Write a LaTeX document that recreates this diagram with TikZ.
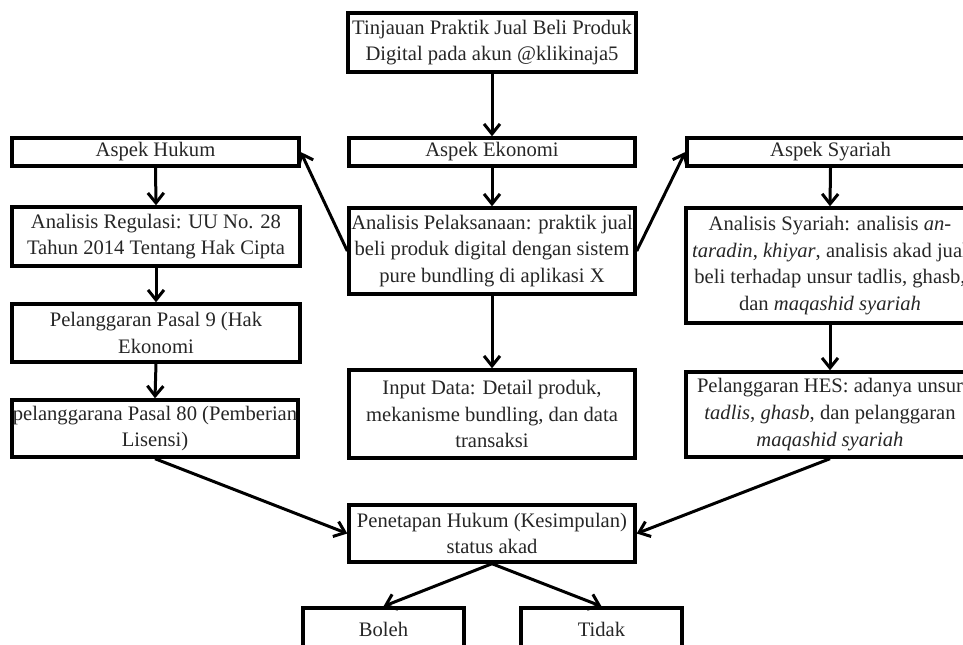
\documentclass[tikz,border=0pt]{standalone}
\usepackage{fontspec}
\setmainfont{Liberation Serif}
\usetikzlibrary{arrows.meta}
\begin{document}
\begin{tikzpicture}[x=0.5pt,y=-0.5pt,
  box/.style={draw=black,line width=1.7pt,inner sep=0pt,align=center,
    text=black!85,font=\fontsize{10.3pt}{13.4pt}\selectfont},
  conn/.style={line width=1.5pt,-{Straight Barb[length=5pt,width=8pt,line width=1.5pt]}}]
\useasboundingbox (0,0) rectangle (963,644);
\clip (0,0) rectangle (963,644);
\fill[white] (0,0) rectangle (963,644);
% top
\node[box,minimum width=144pt,minimum height=29.5pt] (top) at (492,42.5)
  {Tinjauan Praktik Jual Beli Produk\\Digital pada akun @klikinaja5};
% row of aspects
\node[box,minimum width=143.5pt,minimum height=14pt] (hukum) at (155.5,152) {Aspek Hukum};
\node[box,minimum width=143pt,minimum height=14pt] (ekonomi) at (492,152) {Aspek Ekonomi};
\node[box,minimum width=143.5pt,minimum height=14pt] (syariah) at (830.5,152) {Aspek Syariah};
% left column
\node[box,minimum width=144pt,minimum height=29.5pt] (regulasi) at (156,236.5)
  {Analisis Regulasi: UU No. 28\\Tahun 2014 Tentang Hak Cipta};
\node[box,minimum width=144pt,minimum height=29pt] (pasal9) at (156,333)
  {Pelanggaran Pasal 9 (Hak\\Ekonomi};
\node[box,minimum width=143pt,minimum height=28.5pt] (pasal80) at (155,428.5)
  {pelanggarana Pasal 80 (Pemberian\\Lisensi)};
% middle column
\node[box,minimum width=143pt,minimum height=43pt] (pelaksanaan) at (492,251)
  {Analisis Pelaksanaan: praktik jual\\beli produk digital dengan sistem\\pure bundling di aplikasi X};
\node[box,minimum width=143pt,minimum height=44pt] (input) at (492,414)
  {Input Data: Detail produk,\\mekanisme bundling, dan data\\transaksi};
% right column
\node[box,minimum width=144pt,minimum height=57.5pt] (anasyariah) at (830,265.5)
  {Analisis Syariah: analisis \textit{an-}\\\textit{taradin}, \textit{khiyar}, analisis akad jual\\beli terhadap unsur tadlis, ghasb,\\dan \textit{maqashid syariah}};
\node[box,minimum width=144pt,minimum height=42.5pt] (hes) at (830,414.5)
  {Pelanggaran HES: adanya unsur\\\textit{tadlis}, \textit{ghasb}, dan pelanggaran\\\textit{maqashid syariah}};
% conclusion
\node[box,minimum width=143pt,minimum height=28.5pt] (penetapan) at (492,533.5)
  {Penetapan Hukum (Kesimpulan)\\status akad};
\node[box,minimum width=80.5pt,minimum height=21pt] (boleh) at (383.5,629) {Boleh};
\node[box,minimum width=80.5pt,minimum height=21pt] (tidak) at (601.5,629) {Tidak};
% connectors
\draw[conn] (top.south) -- (ekonomi.north);
\draw[conn] (ekonomi.south) -- (pelaksanaan.north);
\draw[conn] (pelaksanaan.south) -- (input.north);
\draw[conn] (pelaksanaan.west) -- (hukum.east);
\draw[conn] (pelaksanaan.east) -- (syariah.west);
\draw[conn] (hukum.south) -- (regulasi.north);
\draw[conn] (regulasi.south) -- (pasal9.north);
\draw[conn] (pasal9.south) -- (pasal80.north);
\draw[conn] (syariah.south) -- (anasyariah.north);
\draw[conn] (anasyariah.south) -- (hes.north);
\draw[conn] (pasal80.south) -- (penetapan.west);
\draw[conn] (hes.south) -- (penetapan.east);
\draw[conn] (penetapan.south) -- (boleh.north);
\draw[conn] (penetapan.south) -- (tidak.north);
\end{tikzpicture}
\end{document}
